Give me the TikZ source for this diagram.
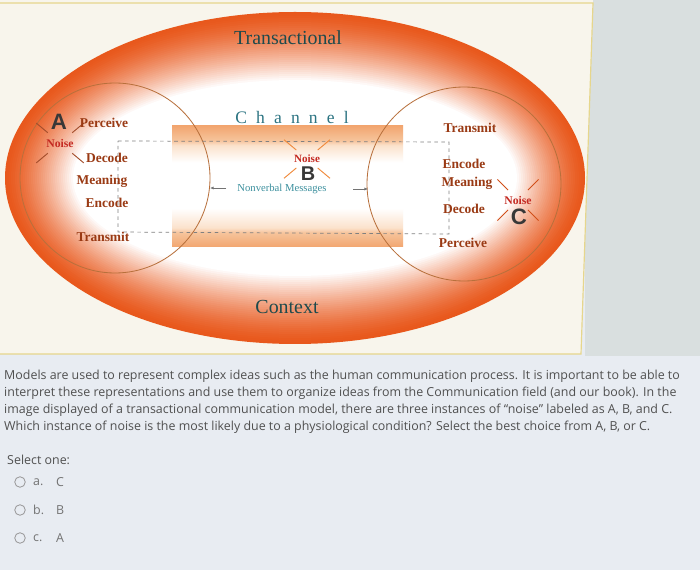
\documentclass[tikz,border=0pt]{standalone}
\usepackage{fontspec}
\setmainfont{Liberation Serif}
\newfontfamily\qfont{Open Sans}
\newfontfamily\abcfont{Liberation Sans}
\newfontfamily\chanfont[LetterSpace=52]{Liberation Serif}
\usetikzlibrary{arrows.meta}
\definecolor{pagebg}{HTML}{E8ECF2}
\definecolor{sidebg}{HTML}{D9DFDF}
\definecolor{panelbg}{HTML}{F8F5EC}
\definecolor{panelline}{HTML}{E6D68C}
\definecolor{ringdark}{HTML}{E8581C}
\definecolor{chdark}{HTML}{F2A670}
\definecolor{chmid}{HTML}{F6C49C}
\definecolor{chlight}{HTML}{FBE2CC}
\definecolor{lblbrown}{HTML}{9A3A14}
\definecolor{noisered}{HTML}{C42A22}
\definecolor{noiseor}{HTML}{F08A3C}
\definecolor{tealdark}{HTML}{1E4A4C}
\definecolor{tealmid}{HTML}{2C7482}
\definecolor{teallight}{HTML}{3C909E}
\definecolor{circline}{HTML}{B8703C}
\definecolor{qgray}{HTML}{505050}
\pgfdeclareverticalshading{chanshade}{100bp}{color(0bp)=(chdark); color(25bp)=(chdark); color(31bp)=(chmid); color(33bp)=(chlight); color(41bp)=(white); color(60bp)=(white); color(67bp)=(chlight); color(69bp)=(chmid); color(75bp)=(chdark); color(100bp)=(chdark)}
\tikzset{
  lbl/.style={font=\fontsize{11.5}{12}\selectfont\bfseries, text=lblbrown, inner sep=0pt},
  nz/.style={font=\fontsize{10}{11}\selectfont\bfseries, text=noisered, inner sep=0pt},
  abc/.style={font=\fontsize{19}{20}\abcfont\bfseries, text=black!78, inner sep=0pt},
  ring/.style={draw=circline, line width=0.7pt},
  loopline/.style={draw=black!50, dashed, line width=0.6pt},
  arr/.style={draw=black!55, line width=0.5pt, -{Latex[length=3pt,width=2.5pt]}},
  qtext/.style={font=\fontsize{10.6}{12}\qfont, text=qgray, anchor=west, inner sep=0pt},
  radio/.style={circle, draw=black!40, line width=0.7pt, minimum size=9pt, inner sep=0pt}
}
\begin{document}
\begin{tikzpicture}[x=0.03cm,y=-0.03cm]
\useasboundingbox (0,0) rectangle (700,570);
\fill[pagebg] (0,0) rectangle (700,570);
\fill[sidebg] (585,0) rectangle (700,356);
\fill[panelbg] (0,0) -- (593,0) -- (581,354) -- (0,354) -- cycle;
\draw[panelline, line width=1pt] (0,3) -- (593,3) -- (581,354) -- (0,354);

\foreach \i in {0,...,34}{
  \pgfmathsetmacro\p{100*(1-(\i/34)^1.4)}
  \pgfmathsetmacro\rx{290-2*\i}
  \pgfmathsetmacro\ry{166-2*\i}
  \fill[ringdark!\p!white] (295,178) ellipse [x radius=\rx, y radius=\ry];
}
\shade[shading=chanshade] (172,126) rectangle (403,247);
\draw[ring] (115,178) circle [radius=95];
\draw[ring] (464,184) circle [radius=97];

\coordinate (dtl) at (118,141);
\coordinate (dtr) at (449,142);
\coordinate (dbr) at (449,234);
\coordinate (dbl) at (118,232);
\draw[loopline] (dtl) -- (dtr) -- (dbr) -- (dbl) -- cycle;

\coordinate (arl0) at (226,188);
\coordinate (arl1) at (210,188);
\coordinate (arr0) at (353,189);
\coordinate (arr1) at (368,189);
\draw[arr] (arl0) -- (arl1);
\draw[arr] (arr0) -- (arr1);

\node[font=\fontsize{17}{18}\selectfont, text=tealdark] (title) at (288,38) {Transactional};
\node[font=\fontsize{15}{16}\chanfont, text=tealmid] (chan) at (292,117) {Channel};
\node[font=\fontsize{17}{18}\selectfont, text=tealdark] (ctx) at (287,307) {Context};

\node[abc] (lA) at (59,122) {A};
\node[nz] (nzA) at (60,143) {Noise};
\foreach \a in {40,140,220,320}
  \draw[draw=lblbrown!90, line width=0.8pt] ([shift={(\a:16)}]nzA.center) -- ([shift={(\a:31)}]nzA.center);
\node[lbl] (perA) at (104,123) {Perceive};
\node[lbl] (decA) at (107,158) {Decode};
\node[lbl] (meanA) at (102,181) {Meaning};
\node[lbl] (encA) at (107,203) {Encode};
\node[lbl] (transA) at (103,237) {Transmit};

\node[nz, font=\fontsize{9.5}{10}\selectfont\bfseries] (nzB) at (307,159) {Noise};
\foreach \a in {40,140,220,320}
  \draw[draw=noiseor, line width=0.8pt] ([shift={(\a:14)}]nzB.center) -- ([shift={(\a:30)}]nzB.center);
\node[abc, font=\fontsize{17}{18}\abcfont\bfseries] (lB) at (308,174) {B};
\node[font=\fontsize{9.1}{10}\selectfont, text=teallight, inner sep=0pt] (nvm) at (282,189) {Nonverbal Messages};

\node[lbl] (transC) at (470,128) {Transmit};
\node[lbl] (encC) at (464,164) {Encode};
\node[lbl] (meanC) at (467,183) {Meaning};
\node[lbl] (decC) at (464,209) {Decode};
\node[lbl] (perC) at (463,243) {Perceive};
\node[nz] (nzC) at (518,200) {Noise};
\foreach \a in {45,135,225,315}
  \draw[draw=ringdark!90!black, line width=0.8pt] ([shift={(\a:14)}]nzC.center) -- ([shift={(\a:29)}]nzC.center);
\node[abc] (lC) at (519,217) {C};

\node[qtext] (q1) at (4,376) {Models are used to represent complex ideas such as the human communication process. It is important to be able to};
\node[qtext] (q2) at (4,393) {interpret these representations and use them to organize ideas from the Communication field (and our book). In the};
\node[qtext] (q3) at (4,410) {image displayed of a transactional communication model, there are three instances of “noise” labeled as A, B, and C.};
\node[qtext] (q4) at (4,427) {Which instance of noise is the most likely due to a physiological condition? Select the best choice from A, B, or C.};
\node[qtext] (sel) at (7,460) {Select one:};
\node[radio] (ra) at (20,482) {};
\node[qtext, text=black!55] (la) at (33,482) {a.};
\node[qtext, text=black!55] (ta) at (56,482) {C};
\node[radio] (rb) at (20,510) {};
\node[qtext, text=black!55] (lb) at (33,510) {b.};
\node[qtext, text=black!55] (tb) at (56,510) {B};
\node[radio] (rc) at (20,538) {};
\node[qtext, text=black!55] (lc) at (33,538) {c.};
\node[qtext, text=black!55] (tc) at (56,538) {A};
\end{tikzpicture}
\end{document}
